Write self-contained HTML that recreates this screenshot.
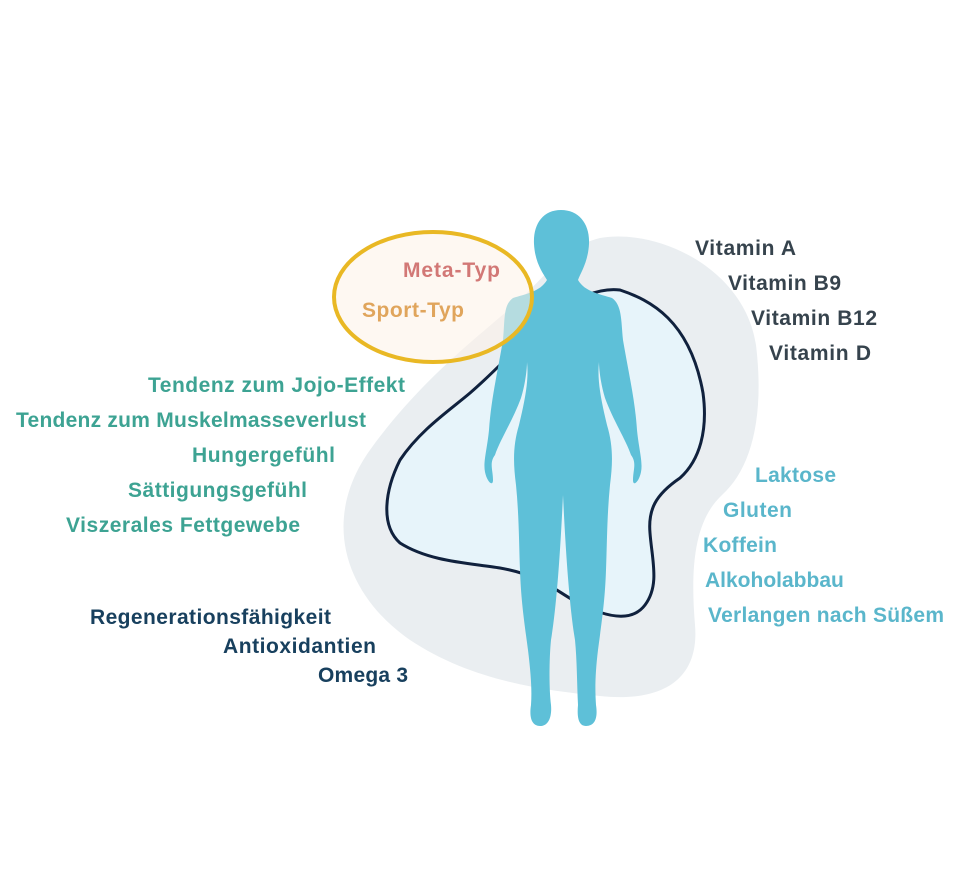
<!DOCTYPE html>
<html><head><meta charset="utf-8"><style>
html,body{margin:0;padding:0;background:#fff;}
svg{display:block}
text{font-family:"Liberation Sans",sans-serif;font-weight:bold;font-size:21px}
</style></head><body>
<svg width="960" height="886" viewBox="0 0 960 886" xmlns="http://www.w3.org/2000/svg">
<rect width="960" height="886" fill="#fff"/>
<path d="M600,238 C660,228 745,270 756,345 C765,420 750,470 722,495 C695,520 690,565 695,625 C700,685 655,702 600,696 C540,690 470,680 410,640 C345,595 320,520 370,450 C420,380 480,335 520,300 C550,270 570,245 600,238Z" fill="#eaeef1"/>
<path d="M620,290 C650,300 690,320 703,393 C708,430 700,460 680,478 C655,495 648,510 650,533 C652,560 660,585 645,605 C630,625 600,615 573,600 C555,590 540,575 500,568 C470,563 430,562 400,543 C380,525 385,490 400,460 C420,430 450,410 470,393 C485,380 495,370 505,360 C530,330 580,285 620,290Z" fill="#e7f4fa" stroke="#10213d" stroke-width="3"/>
<path d="M561,210 C579,210 590,224 589,244 C588,262 581,272 578,280 C585,292 600,294 612,298 C622,305 621,320 623,340 C629,375 635,400 637,430 C639,450 643,462 641,472 C639,482 633,487 633,480 C633,470 637,463 631,455 C626,440 613,420 605,398 C601,385 599,370 599,362 C597,380 601,400 607,425 C613,445 613,462 610,485 C607,515 607,545 606,570 C605,600 602,620 598,650 C595,675 595,690 596,705 C598,718 595,726 586,726 C578,726 577,716 578,705 C577,685 577,660 575,640 C570,610 566,560 563,495 C560,560 556,610 551,640 C549,660 549,690 551,705 C552,716 549,726 540,726 C532,726 529,718 531,705 C532,690 531,675 528,650 C524,620 521,600 520,570 C519,545 519,515 516,485 C513,462 513,445 519,425 C525,400 529,380 527,362 C527,370 525,385 521,398 C513,420 500,440 495,455 C489,463 493,470 493,480 C493,487 487,482 485,472 C483,462 487,450 489,430 C491,400 497,375 503,340 C505,320 503,305 513,298 C525,294 540,292 547,280 C542,272 535,262 534,244 C533,224 543,210 561,210Z" fill="#5ec0d8"/>
<ellipse cx="433" cy="297" rx="99" ry="65" fill="#fdf3e8" fill-opacity="0.55" stroke="#e9b824" stroke-width="4"/>
<text x="403" y="277" fill="#d27876" textLength="97">Meta-Typ</text>
<text x="362" y="317" fill="#e0a55c" textLength="102">Sport-Typ</text>
<g fill="#3da393">
<text x="148" y="392" textLength="257">Tendenz zum Jojo-Effekt</text>
<text x="16" y="427" textLength="350">Tendenz zum Muskelmasseverlust</text>
<text x="192" y="462" textLength="143">Hungergefühl</text>
<text x="128" y="497" textLength="179">Sättigungsgefühl</text>
<text x="66" y="532" textLength="234">Viszerales Fettgewebe</text>
</g>
<g fill="#18405e">
<text x="90" y="624" textLength="241">Regenerationsfähigkeit</text>
<text x="223" y="653" textLength="153">Antioxidantien</text>
<text x="318" y="682" textLength="90">Omega 3</text>
</g>
<g fill="#36434d">
<text x="695" y="255" textLength="101">Vitamin A</text>
<text x="728" y="290" textLength="113">Vitamin B9</text>
<text x="751" y="325" textLength="126">Vitamin B12</text>
<text x="769" y="360" textLength="102">Vitamin D</text>
</g>
<g fill="#5ab6cb">
<text x="755" y="482" textLength="81">Laktose</text>
<text x="723" y="517" textLength="69">Gluten</text>
<text x="703" y="552" textLength="74">Koffein</text>
<text x="705" y="587">Alkoholabbau</text>
<text x="708" y="622" textLength="236">Verlangen nach Süßem</text>
</g>
</svg>
</body></html>
